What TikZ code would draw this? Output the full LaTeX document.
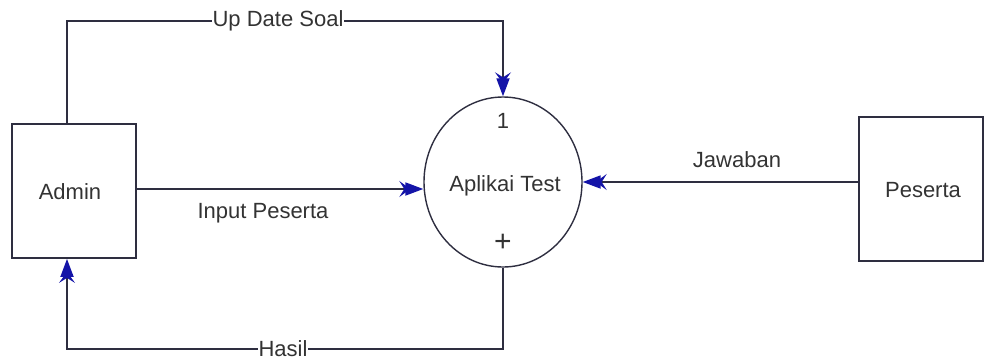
\documentclass[tikz,border=0pt]{standalone}
\usepackage{fontspec}
\setmainfont{Liberation Sans}
\usetikzlibrary{arrows.meta,shapes.geometric}
\definecolor{lineC}{HTML}{2E2E40}
\definecolor{tipC}{HTML}{1414A8}
\definecolor{txtC}{HTML}{333333}
\tikzset{
  every node/.style={font=\fontsize{22}{26}\selectfont, text=txtC},
  entity/.style={draw=lineC, line width=1.8pt, rectangle, inner sep=0pt},
  procnode/.style={draw=lineC, line width=1.4pt, ellipse, inner sep=0pt},
  flowtip/.tip={Stealth[length=11pt,width=16pt,inset=5pt,color=tipC,sep=-5pt] Triangle[length=18pt,width=13pt,color=tipC]},
  flow/.style={draw=lineC, line width=1.8pt, -{flowtip}},
  lbl/.style={fill=white, inner sep=1pt}
}
\begin{document}
\begin{tikzpicture}[x=1pt,y=-1pt]
\useasboundingbox (0,0) rectangle (984,362);
% nodes
\node[entity, minimum width=124pt, minimum height=134pt] (admin) at (74,191) {};
\node (admintxt) at (70,192) {Admin};
\node[procnode, minimum width=158pt, minimum height=170pt] (proc) at (503,182) {};
\node (proctxt) at (505,186) {Aplikai Test};
\node (pnum) at (503,121) {1};
\node[font=\fontsize{30}{30}\selectfont] (pplus) at (503,243) {+};
\node[entity, minimum width=124pt, minimum height=144pt] (peserta) at (921,189) {};
\node (pestxt) at (923,190) {Peserta};
% coordinates for bends
\coordinate (u1) at (67,21);
\coordinate (u2) at (503,21);
\coordinate (h1) at (503,349);
\coordinate (h2) at (67,349);
% connectors
\draw[flow] ([xshift=-7pt]admin.north) -- (u1) -- (u2) -- (proc.north);
\draw[flow] ([yshift=2pt]admin.east) -- ([yshift=2pt]admin.east -| proc.west);
\draw[flow] (peserta.west |- proc.east) -- (proc.east);
\draw[flow] (proc.south) -- (h1) -- (h2) -- ([xshift=-7pt]admin.south);
% labels
\node[lbl] (lup) at (278,21) {Up Date Soal};
\node (lin) at (263,213) {Input Peserta};
\node (ljaw) at (737,160) {Jawaban};
\node[lbl, inner ysep=0pt] (lhasil) at (283,349) {Hasil};
\end{tikzpicture}
\end{document}
